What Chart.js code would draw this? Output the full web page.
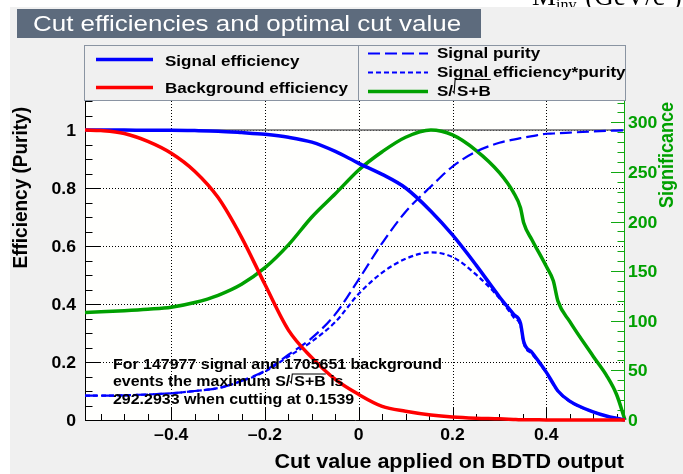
<!DOCTYPE html>
<html>
<head>
<meta charset="utf-8">
<script src="https://cdn.jsdelivr.net/npm/chart.js@4/dist/chart.umd.min.js"></script>
<style>
  html, body { margin: 0; padding: 0; background: #ffffff; overflow: hidden; }
  canvas { display: block; }
</style>
</head>
<body>
<canvas id="cuts" width="683" height="474"></canvas>
<script>
// Cut value applied on the BDTD output (x positions of the curves)
const cutValues = [-0.584, -0.55, -0.5, -0.45, -0.4, -0.35, -0.3, -0.25, -0.2, -0.15, -0.1, -0.05,
  0, 0.05, 0.1, 0.1539, 0.2, 0.25, 0.3, 0.33, 0.345, 0.352, 0.37, 0.4, 0.415, 0.425, 0.45, 0.5, 0.53, 0.55, 0.568];

const signalEfficiency = [1.0, 1.0, 1.0, 0.999, 0.999, 0.998, 0.996, 0.991, 0.985, 0.975, 0.958, 0.926,
  0.885, 0.847, 0.80, 0.72, 0.638, 0.535, 0.425, 0.365, 0.334, 0.27, 0.232, 0.165, 0.125, 0.1, 0.065, 0.028, 0.013, 0.006, 0.0];

const backgroundEfficiency = [1.0, 0.998, 0.988, 0.961, 0.92, 0.858, 0.767, 0.63, 0.467, 0.31, 0.215, 0.14,
  0.088, 0.047, 0.03, 0.017, 0.01, 0.006, 0.004, 0.002, 0.001, 0.001, 0.001, 0.0, 0.0, 0.0, 0.0, 0.0, 0.0, 0.0, 0.0];

const signalPurity = [0.084, 0.084, 0.085, 0.088, 0.092, 0.1, 0.11, 0.135, 0.17, 0.225, 0.283, 0.365,
  0.485, 0.61, 0.718, 0.805, 0.874, 0.925, 0.956, 0.967, 0.972, 0.974, 0.979, 0.987, 0.988, 0.989, 0.991, 0.995, 0.997, 0.998, 0.999];

const signalEffTimesPurity = [0.084, 0.084, 0.085, 0.088, 0.092, 0.1, 0.11, 0.134, 0.167, 0.219, 0.271, 0.338,
  0.435, 0.508, 0.556, 0.578, 0.562, 0.502, 0.42, 0.355, 0.325, 0.264, 0.227, 0.163, 0.123, 0.099, 0.064, 0.028, 0.013, 0.006, 0.0];

// S/sqrt(S+B), right-hand axis
const significance = [108.4, 109.0, 110.2, 111.7, 113.7, 118.4, 125.7, 136.8, 153.5, 176.5, 204.6, 228.0,
  252.0, 270.4, 285.0, 292.2933, 287.3, 271.8, 249.3, 229.4, 214.0, 198.5, 181.2, 154.9, 140.3, 119.8, 99.4, 64.3, 43.8, 25.7, 0];

// Summary numbers quoted in the text box
const nSignal = 147977;
const nBackground = 1705651;
const maxSignificance = 292.2933;
const optimalCut = 0.1539;

// Axis ticks and labels
const cutTicks = [-0.4, -0.2, 0, 0.2, 0.4];
const cutTickLabels = ['\u20130.4', '\u20130.2', '0', '0.2', '0.4'];
const effTicks = [0, 0.2, 0.4, 0.6, 0.8, 1];
const effTickLabels = ['0', '0.2', '0.4', '0.6', '0.8', '1'];
const sigTicks = [0, 50, 100, 150, 200, 250, 300];
const sigTickLabels = ['0', '50', '100', '150', '200', '250', '300'];
const referenceLevel = 1;

const FONT = '"Liberation Sans", Arial, Helvetica, sans-serif';
const STRETCH = 1.1;
const GREEN = '#00a000';
const GREEN_AXIS = '#11a811';

function setFont(ctx, size, weight) {
  ctx.font = (weight || 'bold') + ' ' + size + 'px ' + FONT;
}
function textW(ctx, str, size, weight) {
  ctx.save(); setFont(ctx, size, weight);
  const w = ctx.measureText(str).width * STRETCH;
  ctx.restore(); return w;
}
function drawText(ctx, str, x, y, o) {
  ctx.save();
  setFont(ctx, o.size, o.weight);
  ctx.fillStyle = o.color || '#000';
  ctx.textAlign = o.align || 'left';
  ctx.textBaseline = o.baseline || 'alphabetic';
  ctx.translate(x, y);
  ctx.scale(o.stretch || STRETCH, 1);
  if (o.rotate) ctx.rotate(o.rotate);
  ctx.fillText(str, 0, 0);
  ctx.restore();
}
// "S/" + root sign + "S+B" with an overline
function drawSqrtLabel(ctx, x, y, size, overY) {
  drawText(ctx, 'S/', x, y, { size });
  const bx = x + textW(ctx, 'S/', size) + 2;
  const sbW = textW(ctx, 'S+B', size);
  ctx.save();
  ctx.strokeStyle = '#000'; ctx.lineWidth = 1.1;
  ctx.beginPath();
  ctx.moveTo(bx - 2.5, y - 5);
  ctx.lineTo(bx - 1, y - 3);
  ctx.lineTo(bx, overY);
  ctx.lineTo(bx + 2 + sbW, overY);
  ctx.stroke();
  ctx.restore();
  drawText(ctx, 'S+B', bx + 2, y, { size });
  return bx + 2 + sbW;
}

const pts = arr => arr.map((v, i) => ({ x: cutValues[i], y: v }));

const framePlugin = {
  id: 'frame',
  beforeDraw(chart) {
    const ctx = chart.ctx, a = chart.chartArea;
    ctx.save();
    ctx.fillStyle = '#ffffff';
    ctx.fillRect(0, 0, chart.width, chart.height);
    // unit label peeking in at the top right
    ctx.fillStyle = '#000';
    ctx.font = '27px "Liberation Serif", "DejaVu Serif", serif';
    let x = 532;
    ctx.fillText('M', x, 5); x += ctx.measureText('M').width;
    ctx.font = '16px "Liberation Serif", "DejaVu Serif", serif';
    ctx.fillText('inv', x, 10); x += ctx.measureText('inv').width + 2;
    ctx.font = '27px "Liberation Serif", "DejaVu Serif", serif';
    ctx.fillText(' (GeV/c', x, 5); x += ctx.measureText(' (GeV/c').width;
    ctx.font = '16px "Liberation Serif", "DejaVu Serif", serif';
    ctx.fillText('2', x, -6); x += ctx.measureText('2').width;
    ctx.font = '27px "Liberation Serif", "DejaVu Serif", serif';
    ctx.fillText(')', x, 5);
    // canvas fill
    ctx.fillStyle = '#f0f0f0';
    ctx.fillRect(10, 7, chart.width - 10, chart.height - 7);
    // title box
    ctx.fillStyle = '#5d6b7d';
    ctx.fillRect(17, 9, 464, 29);
    ctx.restore();
    drawText(ctx, 'Cut efficiencies and optimal cut value', 33, 31, { size: 22, weight: 'normal', color: '#ffffff', stretch: 1.18 });
    // plot frame fill
    ctx.save();
    ctx.fillStyle = '#fffffd';
    ctx.fillRect(a.left, a.top, a.right - a.left, a.bottom - a.top);
    ctx.restore();
  },
  beforeDatasetsDraw(chart) {
    const ctx = chart.ctx, a = chart.chartArea;
    const xs = chart.scales.x, ys = chart.scales.y, ys2 = chart.scales.y2;
    ctx.save();
    ctx.strokeStyle = '#000';
    ctx.lineWidth = 1;
    ctx.setLineDash([1, 2]);
    cutTicks.forEach(v => {
      const px = Math.round(xs.getPixelForValue(v)) + 0.5;
      ctx.beginPath(); ctx.moveTo(px, a.top); ctx.lineTo(px, a.bottom); ctx.stroke();
    });
    effTicks.forEach(v => {
      if (v === 0) return;
      const py = Math.round(ys.getPixelForValue(v)) + 0.5;
      ctx.beginPath(); ctx.moveTo(a.left, py); ctx.lineTo(a.right, py); ctx.stroke();
    });
    ctx.setLineDash([]);
    // reference line at efficiency 1
    ctx.strokeStyle = '#6a6a6a';
    ctx.lineWidth = 1.5;
    const py1 = ys.getPixelForValue(referenceLevel);
    ctx.beginPath(); ctx.moveTo(a.left, py1); ctx.lineTo(a.right, py1); ctx.stroke();

    ctx.lineWidth = 1;
    // axes lines
    ctx.strokeStyle = '#000';
    ctx.beginPath();
    ctx.moveTo(a.left + 0.5, a.top); ctx.lineTo(a.left + 0.5, a.bottom + 0.5);
    ctx.lineTo(a.right, a.bottom + 0.5);
    ctx.stroke();
    // x ticks (major + minor every 0.05)
    for (let k = -11; k <= 11; k++) {
      const v = k * 0.05;
      if (v < xs.min || v > xs.max) continue;
      const major = k % 4 === 0;
      const px = Math.round(xs.getPixelForValue(v)) + 0.5;
      ctx.beginPath(); ctx.moveTo(px, a.bottom); ctx.lineTo(px, a.bottom - (major ? 13 : 6)); ctx.stroke();
    }
    // left ticks (major 0.2, minor 0.05)
    for (let k = 0; k <= 22; k++) {
      const v = k * 0.05;
      if (v > ys.max + 1e-9) continue;
      const major = k % 4 === 0;
      const py = Math.round(ys.getPixelForValue(v)) + 0.5;
      ctx.beginPath(); ctx.moveTo(a.left, py); ctx.lineTo(a.left + (major ? 15 : 7.5), py); ctx.stroke();
    }
    // right axis in green (major 50, minor 10)
    ctx.strokeStyle = GREEN_AXIS;
    ctx.beginPath(); ctx.moveTo(a.right - 0.5, a.top); ctx.lineTo(a.right - 0.5, a.bottom); ctx.stroke();
    for (let v = 0; v <= ys2.max; v += 10) {
      const major = v % 50 === 0;
      const py = Math.round(ys2.getPixelForValue(v)) + 0.5;
      ctx.beginPath(); ctx.moveTo(a.right, py); ctx.lineTo(a.right - (major ? 14 : 7.5), py); ctx.stroke();
    }
    ctx.restore();
  },
  afterDatasetsDraw(chart) {
    const ctx = chart.ctx;
    const xs = chart.scales.x, ys = chart.scales.y, ys2 = chart.scales.y2;

    // tick labels
    cutTicks.forEach((v, i) => drawText(ctx, cutTickLabels[i], xs.getPixelForValue(v), 440, { size: 16, align: 'center' }));
    effTicks.forEach((v, i) => drawText(ctx, effTickLabels[i], 76, ys.getPixelForValue(v) + 6, { size: 16, align: 'right' }));
    sigTicks.forEach((v, i) => drawText(ctx, sigTickLabels[i], 628, ys2.getPixelForValue(v) + 6, { size: 16, color: GREEN }));

    // axis titles
    drawText(ctx, 'Cut value applied on BDTD output', 624, 468, { size: 19.6, align: 'right' });
    drawText(ctx, 'Efficiency (Purity)', 27, 107, { size: 19, align: 'right', rotate: -Math.PI / 2 });
    drawText(ctx, 'Significance', 673, 102, { size: 18, align: 'right', rotate: -Math.PI / 2, color: GREEN });

    // result text box
    const fs = 14.5;
    drawText(ctx, 'For ' + nSignal + ' signal and ' + nBackground + ' background', 113, 368.5, { size: fs });
    const pre = 'events the maximum ';
    drawText(ctx, pre, 113, 386, { size: fs });
    const end = drawSqrtLabel(ctx, 113 + textW(ctx, pre, fs), 386, fs, 374);
    drawText(ctx, ' is', end, 386, { size: fs });
    drawText(ctx, maxSignificance.toFixed(4) + ' when cutting at ' + optimalCut.toFixed(4), 113, 403.5, { size: fs });
  },
  afterDraw(chart) {
    const ctx = chart.ctx;
    ctx.save();
    // legend boxes
    ctx.fillStyle = '#f0f0f0';
    ctx.fillRect(84, 46, 542, 55);
    ctx.strokeStyle = '#8a94a2';
    ctx.lineWidth = 1;
    ctx.strokeRect(84.5, 45.5, 274, 55);
    ctx.strokeRect(358.5, 45.5, 267, 55);
    const sample = (x0, x1, y, color, w, dash) => {
      ctx.beginPath(); ctx.setLineDash(dash || []);
      ctx.strokeStyle = color; ctx.lineWidth = w;
      ctx.moveTo(x0, y); ctx.lineTo(x1, y); ctx.stroke();
    };
    const ds = chart.data.datasets;
    sample(96, 153, 59.5, ds[0].borderColor, 3.5);
    sample(96, 153, 87.5, ds[1].borderColor, 3.5);
    sample(368, 428, 53.5, ds[2].borderColor, 2.2, ds[2].borderDash);
    sample(368, 428, 72.5, ds[3].borderColor, 2.2, ds[3].borderDash);
    sample(368, 428, 91.5, ds[4].borderColor, 3.5);
    ctx.restore();
    const ls = 15.5;
    drawText(ctx, ds[0].label, 165, 65.5, { size: ls });
    drawText(ctx, ds[1].label, 165, 93, { size: ls });
    drawText(ctx, ds[2].label, 437, 58, { size: ls });
    drawText(ctx, ds[3].label, 437, 77, { size: ls });
    drawSqrtLabel(ctx, 437, 96, ls, 79.5);
  }
};

new Chart(document.getElementById('cuts'), {
  type: 'line',
  data: {
    datasets: [
      { label: 'Signal efficiency', data: pts(signalEfficiency), borderColor: '#0000ff', borderWidth: 3.5, yAxisID: 'y', order: 1 },
      { label: 'Background efficiency', data: pts(backgroundEfficiency), borderColor: '#ff0000', borderWidth: 3.5, yAxisID: 'y', order: 0 },
      { label: 'Signal purity', data: pts(signalPurity), borderColor: '#0000ff', borderWidth: 2.2, borderDash: [12, 5], yAxisID: 'y', order: 2 },
      { label: 'Signal efficiency*purity', data: pts(signalEffTimesPurity), borderColor: '#0000ff', borderWidth: 2.2, borderDash: [5, 3], yAxisID: 'y', order: 3 },
      { label: 'S/\u221aS+B', data: pts(significance), borderColor: GREEN, borderWidth: 3.5, yAxisID: 'y2', order: 4 }
    ]
  },
  options: {
    responsive: false,
    animation: false,
    devicePixelRatio: 1,
    layout: { padding: { top: 101, left: 0, right: 0, bottom: 0 } },
    datasets: { line: { clip: 2 } },
    elements: { point: { radius: 0 }, line: { cubicInterpolationMode: 'monotone', fill: false } },
    plugins: { legend: { display: false }, tooltip: { enabled: false }, title: { display: false } },
    scales: {
      x: {
        type: 'linear', min: -0.584, max: 0.568,
        grid: { display: false }, border: { display: false }, ticks: { display: false },
        afterFit(s) { s.height = 54; }
      },
      y: {
        position: 'left', min: 0, max: 1.1,
        grid: { display: false }, border: { display: false }, ticks: { display: false },
        afterFit(s) { s.width = 85; }
      },
      y2: {
        position: 'right', min: 0, max: 1.1 * maxSignificance,
        grid: { display: false }, border: { display: false }, ticks: { display: false },
        afterFit(s) { s.width = 58; }
      }
    }
  },
  plugins: [framePlugin]
});
</script>
</body>
</html>
